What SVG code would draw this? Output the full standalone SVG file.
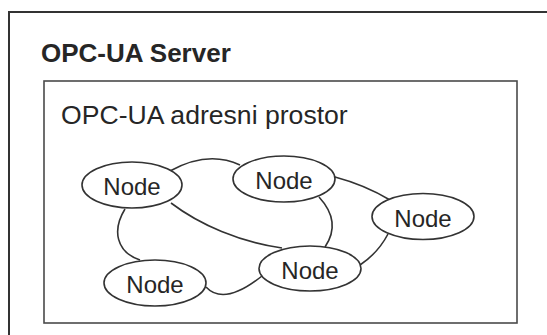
<svg xmlns="http://www.w3.org/2000/svg" width="547" height="335" viewBox="0 0 547 335">
<style>
.frame{fill:none;stroke:#333;stroke-width:2}
.inner{fill:none;stroke:#4a4a4a;stroke-width:1.6}
.node ellipse{fill:#fff;stroke:#333;stroke-width:1.6}
.node text{font-family:"Liberation Sans",Arial,sans-serif;font-size:24px;fill:#262626;text-anchor:middle}
#edges path{fill:none;stroke:#333;stroke-width:1.6}
.title{font-family:"Liberation Sans",Arial,sans-serif;font-size:26px;font-weight:bold;fill:#262626}
.sub{font-family:"Liberation Sans",Arial,sans-serif;font-size:26.6px;fill:#262626}
</style>
<rect width="547" height="335" fill="#fff"/>
<g id="server">
<rect class="frame" x="9" y="12" width="600" height="400"/>
<text class="title" x="41" y="62">OPC-UA Server</text>
</g>
<g id="address-space">
<rect class="inner" x="44" y="81" width="473" height="242"/>
<text class="sub" x="61" y="124">OPC-UA adresni prostor</text>
</g>
<g id="edges">
<path d="M170,171 Q208,150 240,165"/>
<path d="M171,203 C200,225 240,242 282,248"/>
<path d="M125,209 C112,230 116,252 140,260"/>
<path d="M206,287 C220,302 242,292 262,276"/>
<path d="M319,197 Q342,222 325,247"/>
<path d="M335,177 Q365,185 390,200"/>
<path d="M388,234 Q378,253 360,265"/>
</g>
<g id="node1" class="node"><ellipse cx="132" cy="185" rx="50" ry="23"/><text x="132" y="195">Node</text></g>
<g id="node2" class="node"><ellipse cx="284" cy="179" rx="51" ry="23"/><text x="284" y="189">Node</text></g>
<g id="node3" class="node"><ellipse cx="423" cy="216.5" rx="51" ry="23"/><text x="423" y="227">Node</text></g>
<g id="node4" class="node"><ellipse cx="310" cy="268.5" rx="51" ry="22.5"/><text x="310" y="279">Node</text></g>
<g id="node5" class="node"><ellipse cx="155" cy="283" rx="51" ry="23"/><text x="155" y="293">Node</text></g>
</svg>
